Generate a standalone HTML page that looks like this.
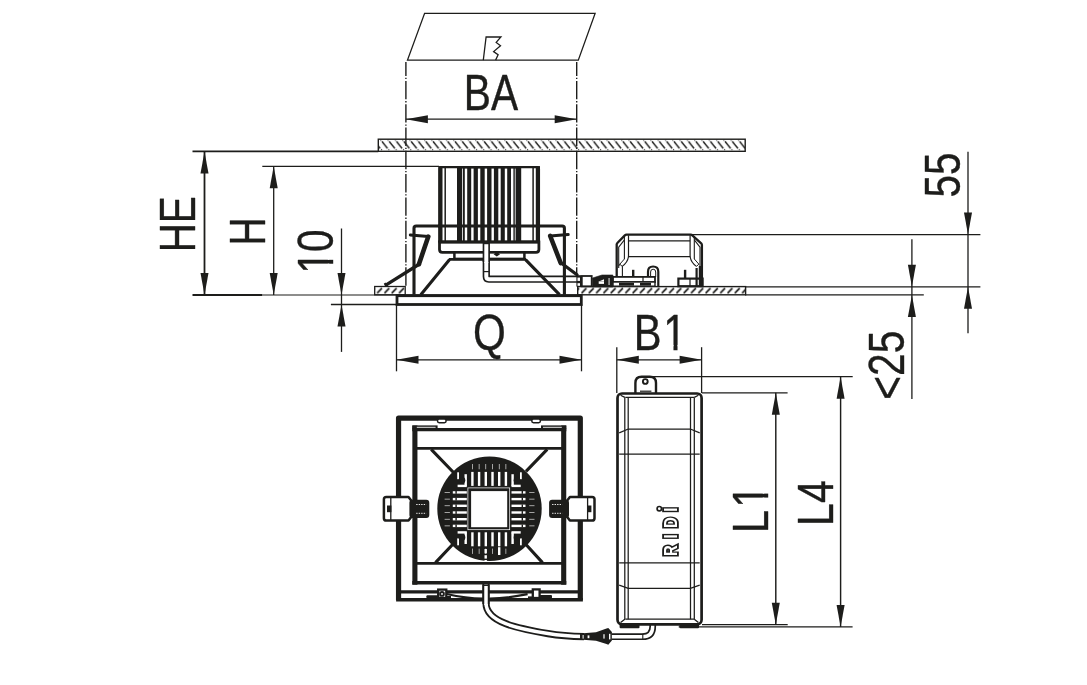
<!DOCTYPE html>
<html lang="en"><head><meta charset="utf-8"><title>Dimension drawing</title>
<style>
html,body{margin:0;padding:0;background:#fff;}
svg{display:block;will-change:transform;font-family:"Liberation Sans",sans-serif;}
</style></head>
<body>
<svg width="1087" height="685" viewBox="0 0 1087 685" stroke="#1d1d1b" fill="none" stroke-linecap="butt">
<defs>
<pattern id="hb" width="7.3" height="14" patternUnits="userSpaceOnUse" x="378.3" y="139.2"><path d="M3.66,2.3 L9.2,9.2 M-3.64,2.3 L1.9,9.2" stroke="#1d1d1b" stroke-width="1.5"/><path d="M2.3,0.6 L2.9,1.3 M3.0,10.2 L3.6,10.9" stroke="#1d1d1b" stroke-width="1.2"/></pattern>
<pattern id="hf" width="7.3" height="20" patternUnits="userSpaceOnUse" x="376.6" y="286.5"><path d="M0.6,6.7 L5.4,1.6" stroke="#1d1d1b" stroke-width="1.7"/></pattern>
</defs>
<rect x="0" y="0" width="1087" height="685" fill="#fff" stroke="none"/>
<polygon points="424.6,13.4 595.1,13.4 578.3,60.1 407.5,60.1" fill="none" stroke-width="1.3"/>
<polyline points="483.3,60.1 486.1,37 500.9,37 496.2,42.4 500.5,45.7 493.6,51.6 498.1,54.8 495.6,60.1" fill="none" stroke-width="1.3"/>
<line x1="405.9" y1="62" x2="405.9" y2="287" stroke-width="1.4" stroke-dasharray="18.4 1.8 1.3 1.8" stroke-dashoffset="4.4"/>
<line x1="576.7" y1="62" x2="576.7" y2="275" stroke-width="1.4" stroke-dasharray="18.4 1.8 1.3 1.8" stroke-dashoffset="4.4"/>
<g transform="translate(463.82 110.00) scale(0.8060 1)"><text x="0.00 33.68" y="0" font-size="50.5" fill="#1d1d1b" stroke="#1d1d1b" stroke-width="0.4" stroke-linejoin="round" style="font-kerning:none">BA</text>
</g>
<line x1="405.9" y1="119.2" x2="576.7" y2="119.2" stroke-width="1.3" />
<polygon points="405.9,119.2 427.9,115.2 427.9,123.2" fill="#1d1d1b" stroke="none"/>
<polygon points="576.7,119.2 554.7,115.2 554.7,123.2" fill="#1d1d1b" stroke="none"/>
<rect x="378.3" y="139.2" width="366.9" height="12.1" fill="url(#hb)" stroke-width="1.4"/>
<line x1="192.5" y1="151.4" x2="378.3" y2="151.4" stroke-width="1.8" />
<line x1="262.3" y1="166.3" x2="439" y2="166.3" stroke-width="1.3" />
<line x1="192.5" y1="295" x2="262.3" y2="295" stroke-width="1.8" />
<line x1="262.3" y1="295" x2="397" y2="295" stroke-width="1.1" />
<line x1="204.5" y1="151.5" x2="204.5" y2="295" stroke-width="1.8" />
<polygon points="204.5,151.5 200.5,173.5 208.5,173.5" fill="#1d1d1b" stroke="none"/>
<polygon points="204.5,295.0 200.5,273.0 208.5,273.0" fill="#1d1d1b" stroke="none"/>
<line x1="273.7" y1="166.3" x2="273.7" y2="295" stroke-width="1.3" />
<polygon points="273.7,166.3 269.7,188.3 277.7,188.3" fill="#1d1d1b" stroke="none"/>
<polygon points="273.7,295.0 269.7,273.0 277.7,273.0" fill="#1d1d1b" stroke="none"/>
<g transform="translate(195.00 252.35) rotate(-90) scale(0.8001 1)"><text x="0.00 36.47" y="0" font-size="50.5" fill="#1d1d1b" stroke="#1d1d1b" stroke-width="0.4" stroke-linejoin="round" style="font-kerning:none">HE</text>
</g>
<g transform="translate(264.70 245.52) rotate(-90) scale(0.7655 1)"><text x="0.00" y="0" font-size="50.5" fill="#1d1d1b" stroke="#1d1d1b" stroke-width="0.4" stroke-linejoin="round" style="font-kerning:none">H</text>
</g>
<line x1="341.5" y1="228.5" x2="341.5" y2="351.9" stroke-width="1.3" />
<polygon points="341.5,295.0 337.5,273.0 345.5,273.0" fill="#1d1d1b" stroke="none"/>
<polygon points="341.5,304.5 337.5,326.5 345.5,326.5" fill="#1d1d1b" stroke="none"/>
<line x1="330.9" y1="304.5" x2="397.3" y2="304.5" stroke-width="1.3" />
<g transform="translate(332.90 273.73) rotate(-90) scale(0.8010 1)"><text x="0.00 27.29" y="0" font-size="50.5" fill="#1d1d1b" stroke="#1d1d1b" stroke-width="0.4" stroke-linejoin="round" style="font-kerning:none">10</text>
<rect x="2.25" y="-5.07" width="10.23" height="6.57" fill="#fff" stroke="none"/>
<rect x="17.38" y="-5.07" width="9.86" height="6.57" fill="#fff" stroke="none"/>
</g>
<line x1="396.5" y1="304" x2="396.5" y2="371.3" stroke-width="1.3" />
<line x1="581.5" y1="304" x2="581.5" y2="371.3" stroke-width="1.3" />
<line x1="396.5" y1="359.8" x2="581.5" y2="359.8" stroke-width="1.3" />
<polygon points="396.5,359.8 418.5,355.8 418.5,363.8" fill="#1d1d1b" stroke="none"/>
<polygon points="581.5,359.8 559.5,355.8 559.5,363.8" fill="#1d1d1b" stroke="none"/>
<g transform="translate(472.97 349.90) scale(0.8345 1)"><text x="0.00" y="0" font-size="50.5" fill="#1d1d1b" stroke="#1d1d1b" stroke-width="0.4" stroke-linejoin="round" style="font-kerning:none">Q</text>
</g>
<line x1="616.8" y1="347.2" x2="616.8" y2="393" stroke-width="1.3" />
<line x1="701.6" y1="347.2" x2="701.6" y2="393" stroke-width="1.3" />
<line x1="616.8" y1="359.8" x2="701.6" y2="359.8" stroke-width="1.3" />
<polygon points="616.8,359.8 638.8,355.8 638.8,363.8" fill="#1d1d1b" stroke="none"/>
<polygon points="701.6,359.8 679.6,355.8 679.6,363.8" fill="#1d1d1b" stroke="none"/>
<g transform="translate(633.85 350.00) scale(0.8244 1)"><text x="0.00 35.58" y="0" font-size="50.5" fill="#1d1d1b" stroke="#1d1d1b" stroke-width="0.4" stroke-linejoin="round" style="font-kerning:none">B1</text>
<rect x="37.83" y="-5.07" width="10.23" height="6.57" fill="#fff" stroke="none"/>
<rect x="52.97" y="-5.07" width="9.86" height="6.57" fill="#fff" stroke="none"/>
</g>
<line x1="968" y1="151.7" x2="968" y2="333.3" stroke-width="1.3" />
<polygon points="968.0,234.6 964.0,212.6 972.0,212.6" fill="#1d1d1b" stroke="none"/>
<polygon points="968.0,286.8 964.0,308.8 972.0,308.8" fill="#1d1d1b" stroke="none"/>
<line x1="691" y1="234.6" x2="980.4" y2="234.6" stroke-width="1.3" />
<line x1="745" y1="286.8" x2="980.4" y2="286.8" stroke-width="1.3" />
<line x1="745" y1="294.9" x2="923.8" y2="294.9" stroke-width="1.3" />
<line x1="911.9" y1="239.3" x2="911.9" y2="399.1" stroke-width="1.3" />
<polygon points="911.9,286.8 907.9,264.8 915.9,264.8" fill="#1d1d1b" stroke="none"/>
<polygon points="911.9,294.9 907.9,316.9 915.9,316.9" fill="#1d1d1b" stroke="none"/>
<g transform="translate(960.10 197.46) rotate(-90) scale(0.8011 1)"><text x="0.00 28.09" y="0" font-size="50.5" fill="#1d1d1b" stroke="#1d1d1b" stroke-width="0.4" stroke-linejoin="round" style="font-kerning:none">55</text>
</g>
<g transform="translate(903.80 399.64) rotate(-90) scale(0.8042 1)"><text x="0.00 29.49 57.58" y="0" font-size="50.5" fill="#1d1d1b" stroke="#1d1d1b" stroke-width="0.4" stroke-linejoin="round" style="font-kerning:none">&lt;25</text>
</g>
<line x1="702" y1="392.8" x2="787.6" y2="392.8" stroke-width="1.3" />
<line x1="702" y1="624.7" x2="787.7" y2="624.7" stroke-width="1.3" />
<line x1="775.8" y1="392.8" x2="775.8" y2="624.7" stroke-width="1.45" />
<polygon points="775.8,392.8 771.8,414.8 779.8,414.8" fill="#1d1d1b" stroke="none"/>
<polygon points="775.8,624.7 771.8,602.7 779.8,602.7" fill="#1d1d1b" stroke="none"/>
<line x1="652.7" y1="376.7" x2="852.7" y2="376.7" stroke-width="1.3" />
<line x1="678.7" y1="626.9" x2="852.6" y2="626.9" stroke-width="1.3" />
<line x1="840.6" y1="376.7" x2="840.6" y2="626.9" stroke-width="1.45" />
<polygon points="840.6,376.7 836.6,398.7 844.6,398.7" fill="#1d1d1b" stroke="none"/>
<polygon points="840.6,626.9 836.6,604.9 844.6,604.9" fill="#1d1d1b" stroke="none"/>
<g transform="translate(767.80 532.91) rotate(-90) scale(0.8130 1)"><text x="0.00 30.99" y="0" font-size="50.5" fill="#1d1d1b" stroke="#1d1d1b" stroke-width="0.4" stroke-linejoin="round" style="font-kerning:none">L1</text>
<rect x="33.23" y="-5.07" width="10.23" height="6.57" fill="#fff" stroke="none"/>
<rect x="48.37" y="-5.07" width="9.86" height="6.57" fill="#fff" stroke="none"/>
</g>
<g transform="translate(832.70 525.90) rotate(-90) scale(0.8126 1)"><text x="0.00 28.09" y="0" font-size="50.5" fill="#1d1d1b" stroke="#1d1d1b" stroke-width="0.4" stroke-linejoin="round" style="font-kerning:none">L4</text>
</g>
<rect x="374.7" y="286.5" width="30.50" height="8.30" rx="0" fill="url(#hf)" stroke-width="1.3" />
<rect x="577.7" y="286.6" width="167.90" height="8.20" rx="0" fill="url(#hf)" stroke-width="1.4" />
<path d="M486.3,243 L486.3,276.6 Q486.3,279.15 488.8,279.15 L581,279.15" fill="none" stroke-width="7.3" stroke-linejoin="round"/>
<path d="M486.3,243 L486.3,276.6 Q486.3,279.15 488.8,279.15 L577,279.15" fill="none" stroke-width="4.0" stroke="#fff" stroke-linejoin="round"/>
<line x1="483.5" y1="271.6" x2="489.2" y2="271.6" stroke-width="1.2" />
<path d="M449.6,259.6 L420.8,294.7 M525.5,259.6 L559.5,294.7" fill="none" stroke-width="3.1" />
<path d="M414,294.7 L414,228.2 Q414,226 416.2,226 L562.2,226 Q564.4,226 564.4,228.2 L564.4,294.7" fill="none" stroke-width="3.1" />
<path d="M410.3,235 L428.3,236.6" fill="none" stroke-width="3.0" stroke-linecap="round"/>
<path d="M428.3,236.6 L418.9,264.2" fill="none" stroke-width="4.6" stroke-linecap="round"/>
<path d="M419.5,264 L386.2,284.8" fill="none" stroke-width="3.3" stroke-linecap="round"/>
<path d="M384.6,283.2 L387,286.3" fill="none" stroke-width="2.2" />
<path d="M568.2,234.6 L550.2,236" fill="none" stroke-width="3.0" stroke-linecap="round"/>
<path d="M550.2,236 L560.7,263" fill="none" stroke-width="4.6" stroke-linecap="round"/>
<path d="M560.5,262.5 L577,274.8" fill="none" stroke-width="3.3" stroke-linecap="round"/>
<rect x="439.5" y="167.2" width="99.40" height="74.80" rx="1.5" fill="#fff" stroke-width="2.3" />
<rect x="438.4" y="166.1" width="4.10" height="75.90" rx="0" fill="#1d1d1b" stroke-width="0" />
<rect x="535.8" y="166.1" width="4.20" height="75.90" rx="0" fill="#1d1d1b" stroke-width="0" />
<line x1="445.2" y1="167" x2="445.2" y2="242" stroke-width="1.5" />
<line x1="533.1" y1="167" x2="533.1" y2="242" stroke-width="1.5" />
<rect x="457" y="167" width="64.20" height="75.00" rx="0" fill="#1d1d1b" stroke-width="0" />
<rect x="464.8" y="168.6" width="2.40" height="73.40" rx="0" fill="#fff" stroke-width="0" stroke="none"/>
<rect x="471.2" y="168.6" width="2.40" height="73.40" rx="0" fill="#fff" stroke-width="0" stroke="none"/>
<rect x="477.90000000000003" y="168.6" width="2.40" height="73.40" rx="0" fill="#fff" stroke-width="0" stroke="none"/>
<rect x="484.7" y="168.6" width="2.40" height="73.40" rx="0" fill="#fff" stroke-width="0" stroke="none"/>
<rect x="491.5" y="168.6" width="2.40" height="73.40" rx="0" fill="#fff" stroke-width="0" stroke="none"/>
<rect x="498.3" y="168.6" width="2.40" height="73.40" rx="0" fill="#fff" stroke-width="0" stroke="none"/>
<rect x="504.8" y="168.6" width="2.40" height="73.40" rx="0" fill="#fff" stroke-width="0" stroke="none"/>
<rect x="511.00000000000006" y="168.6" width="2.40" height="73.40" rx="0" fill="#fff" stroke-width="0" stroke="none"/>
<rect x="462.20000000000005" y="168.6" width="0.80" height="73.40" rx="0" fill="#fff" stroke-width="0" stroke="none"/>
<rect x="514.8000000000001" y="168.6" width="0.80" height="73.40" rx="0" fill="#fff" stroke-width="0" stroke="none"/>
<line x1="438" y1="226" x2="540" y2="226" stroke-width="3.1" />
<path d="M439.5,242 L439.5,249.6 Q439.5,252.4 442.3,252.4 L536.1,252.4 Q538.9,252.4 538.9,249.6 L538.9,242 Z" fill="#fff" stroke-width="2.8" />
<line x1="438.4" y1="242" x2="540" y2="242" stroke-width="2.3" />
<rect x="454.4" y="252.4" width="70.00" height="6.50" rx="0" fill="#fff" stroke-width="2.5" />
<line x1="449" y1="259.3" x2="526" y2="259.3" stroke-width="2.8" />
<path d="M486.3,243 L486.3,262" fill="none" stroke-width="7.3" />
<path d="M486.3,244.2 L486.3,263" fill="none" stroke-width="4.0" stroke="#fff"/>
<polygon points="493.6,254.3 496.8,252 500,254.3 496.8,256.6" fill="#1d1d1b" stroke="none"/>
<rect x="397.0" y="295.7" width="184.30" height="8.80" rx="0" fill="#fff" stroke-width="2.8" />
<line x1="396.7" y1="294.9" x2="581.8" y2="294.9" stroke-width="1.4" />
<rect x="576.4" y="275.4" width="4.60" height="11.20" rx="0" fill="#1d1d1b" stroke-width="0" />
<rect x="577.5" y="277.6" width="2.50" height="3.30" rx="0" fill="#fff" stroke-width="0" stroke="none"/>
<rect x="577.5" y="283.2" width="2.50" height="2.60" rx="0" fill="#fff" stroke-width="0" stroke="none"/>
<rect x="581.8" y="276.0" width="9.90" height="10.30" rx="0" fill="#fff" stroke-width="1.8" />
<path d="M592.5,278 L602,275 L612.9,275 L612.9,287 L592.5,287 Z" fill="#1d1d1b" stroke-width="0.6" />
<rect x="598.7" y="281.3" width="5.30" height="2.60" rx="0" fill="#fff" stroke-width="0" stroke="none"/>
<path d="M600,281 L604,279.2 L604,281.3 Z" fill="#fff" stroke-width="0" stroke="none"/>
<rect x="608.6" y="278" width="0.90" height="7.00" rx="0" fill="#fff" stroke-width="0" stroke="none"/>
<path d="M616.7,276 L616.7,244.2 Q616.9,243.4 617.6,242.7 L624.6,235.6 Q625.5,234.7 626.6,234.7 L690.6,234.7 Q691.7,234.7 692.6,235.6 L701.2,243.3 Q701.9,244 701.9,245 L701.9,286.2" fill="#fff" stroke-width="2.3" stroke-linejoin="round"/>
<path d="M618.7,268 L618.7,247.2 L624.4,239.8 M700.0,268 L700.0,247.2 L694.3,239.8" fill="none" stroke-width="1.1" />
<path d="M624.4,236 L624.4,259 M694.3,236 L694.3,259" fill="none" stroke-width="1.1" />
<path d="M628.5,235.2 L628.5,256.7 L690.1,256.7 L690.1,235.2" fill="none" stroke-width="1.2" />
<line x1="628.5" y1="240.8" x2="690.1" y2="240.8" stroke-width="1.35" />
<path d="M628.5,256.7 Q627.6,262.6 622.2,266.4 L622.2,266.4 M622.4,266.4 L622.4,277 M690.1,256.7 Q691,262.6 696.4,266.4" fill="none" stroke-width="1.1" />
<path d="M624.4,259 L619.8,264.2 L622.2,266.4 M694.3,259 L698.9,264.2 L696.4,266.4 M618.7,266 L620,264" fill="none" stroke-width="1.0" />
<line x1="633.2" y1="269.8" x2="633.2" y2="277" stroke-width="2.4" />
<path d="M648,277 L648,271.7 Q648,266.5 653.1,266.5 Q658.3,266.5 658.3,271.7 L658.3,286" fill="none" stroke-width="2.2" />
<path d="M650.6,277 L650.6,272 Q650.6,269.2 653.1,269.2 Q655.7,269.2 655.7,272 L655.7,277" fill="none" stroke-width="1.0" />
<line x1="685.1" y1="269.8" x2="685.1" y2="278.2" stroke-width="2.4" />
<rect x="613" y="276.9" width="42.00" height="5.10" rx="0" fill="#fff" stroke-width="1.8" />
<rect x="613" y="282" width="42.00" height="4.20" rx="0" fill="#fff" stroke-width="1.4" />
<rect x="619" y="282.8" width="15.00" height="2.80" rx="0" fill="#1d1d1b" stroke-width="0" />
<rect x="640" y="282.8" width="11.00" height="2.80" rx="0" fill="#1d1d1b" stroke-width="0" />
<line x1="643" y1="276.9" x2="643" y2="282" stroke-width="1.2" />
<rect x="678.4" y="278.6" width="24.20" height="7.60" rx="0" fill="#fff" stroke-width="2.2" />
<line x1="700.6" y1="266" x2="700.6" y2="286.2" stroke-width="3.6" />
<line x1="696.6" y1="268" x2="696.6" y2="286.2" stroke-width="2.2" />
<line x1="690" y1="278.2" x2="690" y2="286.2" stroke-width="1.2" />
<path d="M486,584 L486,603 C486,622.5 518,628.5 548,633.6 C562,636 572,636.4 584,636.6" fill="none" stroke-width="7.2" stroke-linecap="butt"/>
<path d="M486,584 L486,603 C486,622.5 518,628.5 548,633.6 C562,636 572,636.4 584,636.6" fill="none" stroke-width="3.5" stroke="#fff"/>
<path d="M398.55,600 L398.55,418.05 L580.3,418.05 L580.3,600" fill="none" stroke-width="5.2" stroke-linejoin="round"/>
<line x1="396.1" y1="599.8" x2="582.9" y2="599.8" stroke-width="3.5" />
<line x1="398.5" y1="591.8" x2="580.4" y2="591.8" stroke-width="3.3" />
<rect x="437.5" y="419.0" width="8.60" height="3.70" rx="1.7" fill="#fff" stroke-width="1.5" />
<rect x="531.8" y="419.0" width="8.60" height="3.70" rx="1.7" fill="#fff" stroke-width="1.5" />
<line x1="414.9" y1="425.4" x2="414.9" y2="584.8" stroke-width="5.1" />
<line x1="563.7" y1="425.4" x2="563.7" y2="584.8" stroke-width="5.1" />
<line x1="412.3" y1="429.6" x2="566.3" y2="429.6" stroke-width="3.2" />
<line x1="412.3" y1="582.7" x2="566.3" y2="582.7" stroke-width="3.6" />
<line x1="412.3" y1="427.0" x2="437.6" y2="427.0" stroke-width="3.2" />
<line x1="541" y1="427.0" x2="566.3" y2="427.0" stroke-width="3.2" />
<line x1="416.8" y1="427.3" x2="435.6" y2="427.3" stroke-width="0.9" stroke="#fff"/>
<line x1="543" y1="427.3" x2="561.8" y2="427.3" stroke-width="0.9" stroke="#fff"/>
<line x1="415" y1="448.4" x2="563.6" y2="448.4" stroke-width="2.8" />
<line x1="415" y1="563.4" x2="563.6" y2="563.4" stroke-width="2.8" />
<path d="M431.2,449.4 L455,474 M547.2,449.4 L526,471.4 M435.5,562.6 L454,543 M542.5,562.6 L525.5,544" fill="none" stroke-width="3.1" />
<circle cx="489.5" cy="508.8" r="52.2" fill="#1d1d1b" stroke="none"/>
<rect x="471.20" y="471.9" width="2.4" height="14.00" fill="#fff" stroke="none"/>
<rect x="471.20" y="532.3" width="2.4" height="14.00" fill="#fff" stroke="none"/>
<rect x="477.90" y="471.9" width="2.4" height="14.00" fill="#fff" stroke="none"/>
<rect x="477.90" y="532.3" width="2.4" height="14.00" fill="#fff" stroke="none"/>
<rect x="484.60" y="471.9" width="2.4" height="14.00" fill="#fff" stroke="none"/>
<rect x="484.60" y="532.3" width="2.4" height="14.00" fill="#fff" stroke="none"/>
<rect x="491.30" y="471.9" width="2.4" height="14.00" fill="#fff" stroke="none"/>
<rect x="491.30" y="532.3" width="2.4" height="14.00" fill="#fff" stroke="none"/>
<rect x="498.00" y="471.9" width="2.4" height="14.00" fill="#fff" stroke="none"/>
<rect x="498.00" y="532.3" width="2.4" height="14.00" fill="#fff" stroke="none"/>
<rect x="504.70" y="471.9" width="2.4" height="14.00" fill="#fff" stroke="none"/>
<rect x="504.70" y="532.3" width="2.4" height="14.00" fill="#fff" stroke="none"/>
<rect x="464.50" y="474.2" width="2.4" height="11.70" fill="#fff" stroke="none"/>
<rect x="464.50" y="532.3" width="2.4" height="11.70" fill="#fff" stroke="none"/>
<rect x="511.40" y="474.2" width="2.4" height="11.70" fill="#fff" stroke="none"/>
<rect x="511.40" y="532.3" width="2.4" height="11.70" fill="#fff" stroke="none"/>
<rect x="452.8" y="491.20" width="14.00" height="2.4" fill="#fff" stroke="none"/>
<rect x="511.5" y="491.20" width="14.00" height="2.4" fill="#fff" stroke="none"/>
<rect x="452.8" y="497.90" width="14.00" height="2.4" fill="#fff" stroke="none"/>
<rect x="511.5" y="497.90" width="14.00" height="2.4" fill="#fff" stroke="none"/>
<rect x="452.8" y="504.60" width="14.00" height="2.4" fill="#fff" stroke="none"/>
<rect x="511.5" y="504.60" width="14.00" height="2.4" fill="#fff" stroke="none"/>
<rect x="452.8" y="511.30" width="14.00" height="2.4" fill="#fff" stroke="none"/>
<rect x="511.5" y="511.30" width="14.00" height="2.4" fill="#fff" stroke="none"/>
<rect x="452.8" y="518.00" width="14.00" height="2.4" fill="#fff" stroke="none"/>
<rect x="511.5" y="518.00" width="14.00" height="2.4" fill="#fff" stroke="none"/>
<rect x="452.8" y="524.70" width="14.00" height="2.4" fill="#fff" stroke="none"/>
<rect x="511.5" y="524.70" width="14.00" height="2.4" fill="#fff" stroke="none"/>
<rect x="457.6" y="484.70" width="9.20" height="2.4" fill="#fff" stroke="none"/>
<rect x="511.5" y="484.70" width="9.20" height="2.4" fill="#fff" stroke="none"/>
<rect x="457.6" y="531.20" width="9.20" height="2.4" fill="#fff" stroke="none"/>
<rect x="511.5" y="531.20" width="9.20" height="2.4" fill="#fff" stroke="none"/>
<rect x="472.10" y="464" width="0.6" height="5.3" fill="#fff" stroke="none"/>
<rect x="472.10" y="548.6" width="0.6" height="5.3" fill="#fff" stroke="none"/>
<rect x="478.80" y="464" width="0.6" height="5.3" fill="#fff" stroke="none"/>
<rect x="478.80" y="548.6" width="0.6" height="5.3" fill="#fff" stroke="none"/>
<rect x="485.50" y="464" width="0.6" height="5.3" fill="#fff" stroke="none"/>
<rect x="485.50" y="548.6" width="0.6" height="5.3" fill="#fff" stroke="none"/>
<rect x="492.20" y="464" width="0.6" height="5.3" fill="#fff" stroke="none"/>
<rect x="492.20" y="548.6" width="0.6" height="5.3" fill="#fff" stroke="none"/>
<rect x="498.90" y="464" width="0.6" height="5.3" fill="#fff" stroke="none"/>
<rect x="498.90" y="548.6" width="0.6" height="5.3" fill="#fff" stroke="none"/>
<rect x="505.60" y="464" width="0.6" height="5.3" fill="#fff" stroke="none"/>
<rect x="505.60" y="548.6" width="0.6" height="5.3" fill="#fff" stroke="none"/>
<rect x="444.6" y="492.10" width="5.3" height="0.6" fill="#fff" stroke="none"/>
<rect x="529.2" y="492.10" width="5.3" height="0.6" fill="#fff" stroke="none"/>
<rect x="444.6" y="498.80" width="5.3" height="0.6" fill="#fff" stroke="none"/>
<rect x="529.2" y="498.80" width="5.3" height="0.6" fill="#fff" stroke="none"/>
<rect x="444.6" y="505.50" width="5.3" height="0.6" fill="#fff" stroke="none"/>
<rect x="529.2" y="505.50" width="5.3" height="0.6" fill="#fff" stroke="none"/>
<rect x="444.6" y="512.20" width="5.3" height="0.6" fill="#fff" stroke="none"/>
<rect x="529.2" y="512.20" width="5.3" height="0.6" fill="#fff" stroke="none"/>
<rect x="444.6" y="518.90" width="5.3" height="0.6" fill="#fff" stroke="none"/>
<rect x="529.2" y="518.90" width="5.3" height="0.6" fill="#fff" stroke="none"/>
<rect x="444.6" y="525.60" width="5.3" height="0.6" fill="#fff" stroke="none"/>
<rect x="529.2" y="525.60" width="5.3" height="0.6" fill="#fff" stroke="none"/>
<rect x="455.4" y="491.00" width="1.4" height="2.8" fill="#1d1d1b" stroke="none"/>
<rect x="521.6" y="491.00" width="1.4" height="2.8" fill="#1d1d1b" stroke="none"/>
<rect x="455.4" y="497.70" width="1.4" height="2.8" fill="#1d1d1b" stroke="none"/>
<rect x="521.6" y="497.70" width="1.4" height="2.8" fill="#1d1d1b" stroke="none"/>
<rect x="455.4" y="504.40" width="1.4" height="2.8" fill="#1d1d1b" stroke="none"/>
<rect x="521.6" y="504.40" width="1.4" height="2.8" fill="#1d1d1b" stroke="none"/>
<rect x="455.4" y="511.10" width="1.4" height="2.8" fill="#1d1d1b" stroke="none"/>
<rect x="521.6" y="511.10" width="1.4" height="2.8" fill="#1d1d1b" stroke="none"/>
<rect x="455.4" y="517.80" width="1.4" height="2.8" fill="#1d1d1b" stroke="none"/>
<rect x="521.6" y="517.80" width="1.4" height="2.8" fill="#1d1d1b" stroke="none"/>
<rect x="455.4" y="524.50" width="1.4" height="2.8" fill="#1d1d1b" stroke="none"/>
<rect x="521.6" y="524.50" width="1.4" height="2.8" fill="#1d1d1b" stroke="none"/>
<rect x="457.20" y="472.30" width="1.8" height="6.9" fill="#fff" stroke="none"/>
<circle cx="462" cy="480.2" r="3.3" fill="#1d1d1b" stroke="none"/>
<rect x="520.00" y="472.30" width="1.8" height="6.9" fill="#fff" stroke="none"/>
<circle cx="517" cy="480.2" r="3.3" fill="#1d1d1b" stroke="none"/>
<rect x="457.20" y="538.40" width="1.8" height="6.9" fill="#fff" stroke="none"/>
<circle cx="462" cy="537.4" r="3.3" fill="#1d1d1b" stroke="none"/>
<rect x="520.00" y="538.40" width="1.8" height="6.9" fill="#fff" stroke="none"/>
<circle cx="517" cy="537.4" r="3.3" fill="#1d1d1b" stroke="none"/>
<rect x="467.9" y="487.9" width="41.80" height="41.80" rx="0" fill="#1d1d1b" stroke-width="0.7" stroke="#fff"/>
<rect x="471.1" y="491.1" width="36.10" height="36.10" rx="0" fill="#fff" stroke-width="0" stroke="none"/>
<rect x="484.5" y="549" width="2.40" height="4.40" rx="0" fill="#fff" stroke-width="0" stroke="none"/>
<rect x="484.5" y="555.2" width="2.40" height="3.40" rx="0" fill="#fff" stroke-width="0" stroke="none"/>
<rect x="484.5" y="560" width="2.40" height="2.00" rx="0" fill="#fff" stroke-width="0" stroke="none"/>
<rect x="498" y="547.2" width="2.40" height="7.80" rx="0" fill="#fff" stroke-width="0" stroke="none"/>
<path d="M386.3,496.9 L408.5,496.9 L411.6,501 L411.6,516.5 L408.5,520.6 L386.3,520.6 Q383.9,520.6 383.9,518.2 L383.9,499.3 Q383.9,496.9 386.3,496.9 Z" fill="#fff" stroke-width="2.5" stroke-linejoin="round"/>
<line x1="390.8" y1="497" x2="390.8" y2="520.5" stroke-width="1.3" />
<rect x="387.0" y="505.5" width="4.40" height="6.70" rx="0" fill="#1d1d1b" stroke-width="0" />
<rect x="409.4" y="499.8" width="19.90" height="18.20" rx="3" fill="#1d1d1b" stroke-width="0" />
<path d="M416.2,504.5 L426.3,504.5 M416.2,513.3 L426.3,513.3" stroke="#fff" stroke-width="0.9" stroke-dasharray="1.4 1.1"/>
<path d="M592.1,496.9 L569.9,496.9 L566.8,501 L566.8,516.5 L569.9,520.6 L592.1,520.6 Q594.5,520.6 594.5,518.2 L594.5,499.3 Q594.5,496.9 592.1,496.9 Z" fill="#fff" stroke-width="2.5" stroke-linejoin="round"/>
<line x1="587.5999999999999" y1="497" x2="587.5999999999999" y2="520.5" stroke-width="1.3" />
<rect x="587.0" y="505.5" width="4.40" height="6.70" rx="0" fill="#1d1d1b" stroke-width="0" />
<rect x="549.0999999999999" y="499.8" width="19.90" height="18.20" rx="3" fill="#1d1d1b" stroke-width="0" />
<path d="M552.0999999999999,504.5 L562.2,504.5 M552.0999999999999,513.3 L562.2,513.3" stroke="#fff" stroke-width="0.9" stroke-dasharray="1.4 1.1"/>
<path d="M446.6,594.0 Q466,598.4 483,598.7 M489.4,598.7 Q507,598.4 527.6,594.2" fill="none" stroke-width="2.3" />
<rect x="438.2" y="589.6" width="8.10" height="8.40" rx="0" fill="#fff" stroke-width="2.3" />
<circle cx="442.0" cy="593.9" r="1.9" fill="#fff" stroke-width="1.9"/>
<rect x="426.4" y="595.2" width="11.80" height="3.20" rx="1" fill="#1d1d1b" stroke-width="0" />
<rect x="446.3" y="596.0" width="4.70" height="2.40" rx="0" fill="#1d1d1b" stroke-width="0" />
<rect x="532.8" y="589.4" width="6.80" height="8.60" rx="0" fill="#fff" stroke-width="2.3" />
<rect x="528" y="596.4" width="4.80" height="2.00" rx="0" fill="#1d1d1b" stroke-width="0" />
<rect x="539.6" y="595.0" width="12.40" height="3.40" rx="1" fill="#1d1d1b" stroke-width="0" />
<path d="M486,584.6 L486,604" fill="none" stroke-width="7.2" />
<path d="M486,586 L486,605" fill="none" stroke-width="3.5" stroke="#fff"/>
<path d="M580,633.6 L596,632.2 L606.5,628.6 L608.3,627.9 L611.9,632 L611.9,640.6 L608.3,644.8 L606.5,644 L596,640.8 L580,639.6 Z" fill="#1d1d1b" stroke="none"/>
<rect x="582.6" y="635" width="1.00" height="3.60" rx="0" fill="#fff" stroke-width="0" stroke="none"/>
<rect x="587.6" y="635.4" width="1.80" height="2.80" rx="0" fill="#fff" stroke-width="0" stroke="none"/>
<rect x="603.4" y="634.2" width="1.20" height="4.40" rx="0" fill="#fff" stroke-width="0" stroke="none"/>
<rect x="609.0" y="633.8" width="1.40" height="5.60" rx="0" fill="#fff" stroke-width="0" stroke="none"/>
<path d="M611.9,636.7 L642.5,636.7 Q652.7,636.7 652.7,626.5 L652.7,625" fill="none" stroke-width="6.8" />
<path d="M611.9,636.7 L642.5,636.7 Q652.7,636.7 652.7,626.5 L652.7,625" fill="none" stroke-width="3.4" stroke="#fff"/>
<line x1="642.8" y1="633.8" x2="642.8" y2="639.8" stroke-width="1.1" />
<path d="M635.4,393 L635.4,383 Q635.4,376.8 641.6,376.8 L649.8,376.8 Q656,376.8 656,383 L656,393" fill="#fff" stroke-width="2.4" />
<circle cx="645.3" cy="381.5" r="2.4" fill="#fff" stroke-width="1.9"/>
<line x1="640" y1="391.2" x2="651.4" y2="391.2" stroke-width="1.2" />
<rect x="619.6" y="623" width="19.90" height="5.20" rx="1" fill="#1d1d1b" stroke-width="0" />
<rect x="679.5" y="623" width="19.50" height="5.20" rx="1" fill="#1d1d1b" stroke-width="0" />
<rect x="617.5" y="393.5" width="84.10" height="230.80" rx="4.5" fill="#fff" stroke-width="2.7" />
<path d="M624.8,397.4 L624.8,619.2 M628.2,397.4 L628.2,619.2 M690.5,397.4 L690.5,619.2 M694.3,397.4 L694.3,619.2 M624.8,397.4 L620.6,395.2 M694.3,397.4 L698.4,395.2 M624.8,619.2 L620.6,622.6 M694.3,619.2 L698.4,622.6" fill="none" stroke-width="1.25" />
<line x1="625.3" y1="397.4" x2="694" y2="397.4" stroke-width="1.25" />
<line x1="625.3" y1="619.2" x2="694" y2="619.2" stroke-width="1.25" />
<path d="M628.3,429 L690.3,429 M628.3,429 L619.2,432.8 M690.3,429 L699.7,432.8" fill="none" stroke-width="1.25" />
<line x1="619.2" y1="454.1" x2="699.7" y2="454.1" stroke-width="1.25" />
<line x1="619.2" y1="562.9" x2="699.7" y2="562.9" stroke-width="1.25" />
<path d="M628.3,588.4 L690.3,588.4 M628.3,588.4 L619.2,585.2 M690.3,588.4 L699.7,585.2" fill="none" stroke-width="1.25" />
<text transform="translate(677.0 556.4) rotate(-90) scale(0.78 1)" x="0.4 23.0 36.4 57.4" y="0" font-size="19.2" font-weight="bold" fill="#fff" stroke="#1d1d1b" stroke-width="3.7" stroke-linejoin="miter" paint-order="stroke">RIDI</text>
<circle cx="659.3" cy="508.7" r="2.2" fill="#fff" stroke-width="1.7"/>
</svg>
</body></html>
